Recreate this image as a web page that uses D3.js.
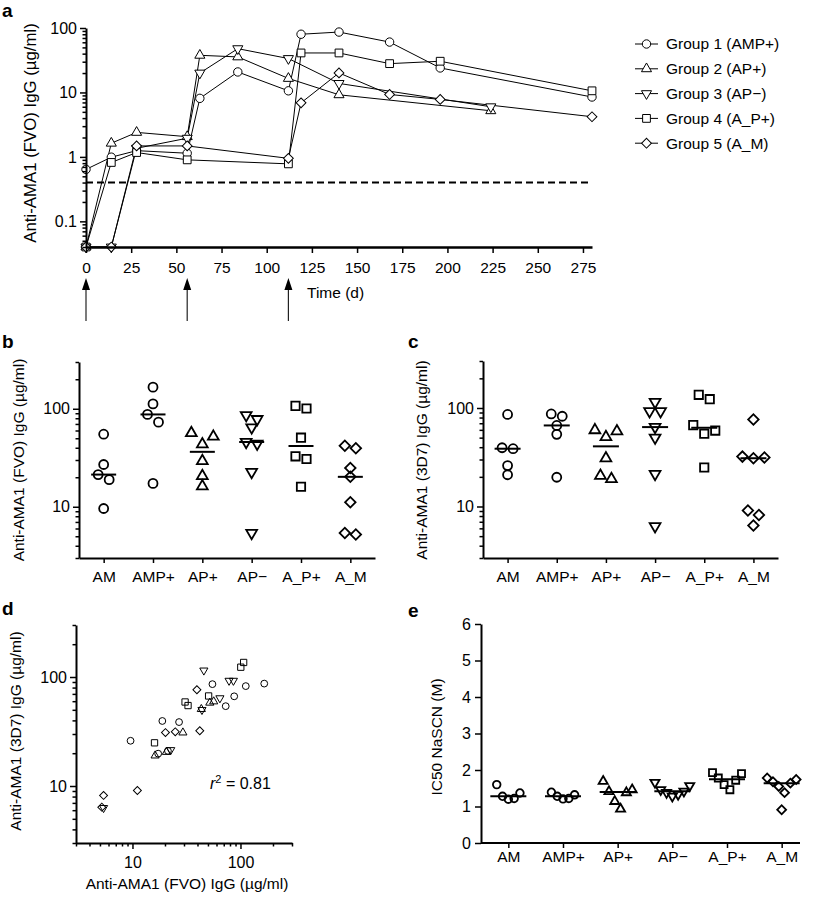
<!DOCTYPE html>
<html>
<head>
<meta charset="utf-8">
<script src="https://cdn.jsdelivr.net/npm/d3@7"></script>
<style>
  body { margin: 0; background: #fff; }
  text { font-family: "Liberation Sans", Arial, sans-serif; fill: #000; }
</style>
</head>
<body>
<svg width="814" height="897"></svg>
<script>
const svg = d3.select("svg");

// ---- panel a : time course (days, µg/ml) ----
const groupNames = ['Group 1 (AMP+)', 'Group 2 (AP+)', 'Group 3 (AP\u2212)', 'Group 4 (A_P+)', 'Group 5 (A_M)'];
const groupShapes = ['circle', 'triangle', 'triangleDown', 'square', 'diamond'];
const group1Days = [0, 14, 28, 56, 63, 84, 112, 119, 140, 168, 196, 280];
const group1Vals = [0.64, 0.99, 1.25, 1.14, 8.1, 20.8, 10.6, 80, 86.5, 60.5, 24, 8.5];
const group2Days = [0, 14, 28, 56, 63, 84, 112, 140, 224];
const group2Vals = [0.04, 1.63, 2.4, 2.06, 37.7, 35.6, 16.5, 9.2, 5.2];
const group3Days = [0, 14, 28, 56, 63, 84, 112, 140, 224];
const group3Vals = [0.04, 0.04, 1.36, 1.95, 20, 47.8, 33.6, 13.8, 6.0];
const group4Days = [0, 14, 28, 56, 112, 119, 140, 168, 196, 280];
const group4Vals = [0.04, 0.82, 1.17, 0.9, 0.78, 41, 41, 28, 30.5, 10.6];
const group5Days = [0, 14, 28, 56, 112, 119, 140, 168, 196, 280];
const group5Vals = [0.04, 0.04, 1.48, 1.48, 0.95, 6.9, 20.1, 9.3, 7.8, 4.2];
const vaccinationDays = [0, 56, 112];
const cutoff = 0.4;
const timeTicks = [0, 25, 50, 75, 100, 125, 150, 175, 200, 225, 250, 275];

// ---- panels b-e : per animal, grouped by vaccine ----
const categories = ['AM', 'AMP+', 'AP+', 'AP\u2212', 'A_P+', 'A_M'];
const categoryShapes = ['circle', 'circle', 'triangle', 'triangleDown', 'square', 'diamond'];
const fvoTitres = [
  [55, 27, 21.3, 18.9, 9.6],
  [166, 112, 87.5, 73, 17.3],
  [56.5, 52, 43.4, 29.3, 20.6, 16.2],
  [86, 78.4, 64.5, 45.8, 44, 22.6, 5.4],
  [107, 100.7, 50.7, 32.7, 30.7, 16],
  [42, 39.5, 24.9, 20.2, 11.1, 5.4, 5.2]
];
const titres3D7 = [
  [86, 38.6, 21, 39.5, 26],
  [87, 82.5, 66.5, 54, 19.8],
  [59.6, 58, 50.7, 30.9, 20.5, 19.0],
  [92.6, 92.6, 64, 115, 50, 21.4, 6.3],
  [136, 123, 67, 54.7, 59, 24.9],
  [32.1, 76.4, 31.4, 30.9, 9.1, 8.2, 6.4]
];
const ic50 = [
  [1.6, 1.37, 1.28, 1.22, 1.2],
  [1.39, 1.32, 1.28, 1.22, 1.21],
  [1.69, 1.46, 1.41, 1.38, 1.14, 0.93],
  [1.66, 1.57, 1.46, 1.42, 1.38, 1.33, 1.28],
  [1.93, 1.9, 1.78, 1.72, 1.6, 1.46],
  [1.78, 1.74, 1.68, 1.64, 1.55, 1.38, 0.91]
];
const rSquared = '0.81';
const ic50Ticks = [0, 1, 2, 3, 4, 5, 6];

// helpers
const symbolPath = (shape, r) => {
  if (shape === 'circle') return d3.symbol(d3.symbolCircle, Math.PI * r * r)();
  if (shape === 'square') return d3.symbol(d3.symbolSquare, Math.pow(1.85 * r, 2))();
  if (shape === 'diamond') return d3.symbol(d3.symbolSquare, Math.pow(1.65 * r, 2))();
  const side = 2.4 * r;
  return d3.symbol(d3.symbolTriangle, Math.sqrt(3) / 4 * side * side)();
};
const symbolRotate = shape => shape === 'diamond' ? 45 : (shape === 'triangleDown' ? 180 : 0);

const drawSymbol = (g, shape, x, y, r, sw, fill) => {
  g.append('path')
    .attr('d', symbolPath(shape, r))
    .attr('transform', `translate(${x},${y}) rotate(${symbolRotate(shape)})`)
    .attr('fill', fill)
    .attr('stroke', '#000')
    .attr('stroke-width', sw);
};

const logTicks = dom => {
  const out = [];
  for (let e = Math.floor(Math.log10(dom[0])); e <= Math.ceil(Math.log10(dom[1])); e++) {
    for (let m = 1; m < 10; m++) {
      const v = +(m * Math.pow(10, e)).toPrecision(6);
      if (v >= dom[0] * 0.999 && v <= dom[1] * 1.001) out.push(v);
    }
  }
  return out;
};
const isMajor = v => Math.abs(Math.log10(v) - Math.round(Math.log10(v))) < 1e-6;

const styleAxis = (axisG, fontSize) => {
  axisG.select('.domain').attr('stroke-width', 2);
  axisG.selectAll('.tick line').attr('stroke-width', 1.5);
  axisG.selectAll('.tick text')
    .attr('font-size', fontSize)
    .attr('font-family', '"Liberation Sans", Arial, sans-serif');
};

// left log axis with minor ticks
const logAxisLeft = (x0, yScale) => {
  const dom = yScale.domain();
  const axis = d3.axisLeft(yScale)
    .tickValues(logTicks(dom))
    .tickFormat(v => isMajor(v) ? String(v) : '')
    .tickSize(6).tickSizeOuter(0).tickPadding(3);
  const g = svg.append('g').attr('transform', `translate(${x0},0)`).call(axis);
  styleAxis(g, 16);
  g.selectAll('.tick line').attr('x2', d => isMajor(d) ? -6 : -3.5);
  return g;
};

const yLabel = (text, x, y, size) => {
  svg.append('text')
    .attr('transform', `translate(${x},${y}) rotate(-90)`)
    .attr('text-anchor', 'middle')
    .attr('font-size', size)
    .text(text);
};

const panelLetter = (t, x, y) => {
  svg.append('text').attr('x', x).attr('y', y)
    .attr('font-size', 19).attr('font-weight', 'bold').text(t);
};

// ================= panel a =================
const xTime = d3.scaleLinear().domain([0, 280]).range([86, 592]);
const yTime = d3.scaleLog().domain([0.04, 100]).range([247, 28]);

const seriesA = [
  {days: group1Days, vals: group1Vals},
  {days: group2Days, vals: group2Vals},
  {days: group3Days, vals: group3Vals},
  {days: group4Days, vals: group4Vals},
  {days: group5Days, vals: group5Vals}
];

panelLetter('a', 2, 17);

// detection cut-off
svg.append('line')
  .attr('x1', xTime(0)).attr('x2', xTime(280))
  .attr('y1', yTime(cutoff)).attr('y2', yTime(cutoff))
  .attr('stroke', '#000').attr('stroke-width', 2)
  .attr('stroke-dasharray', '7,4');

const lineGen = d3.line().x(d => xTime(d[0])).y(d => yTime(d[1]));
const gA = svg.append('g');
seriesA.forEach((s, i) => {
  const pts = s.days.map((d, j) => [d, s.vals[j]]);
  gA.append('path').attr('d', lineGen(pts))
    .attr('fill', 'none').attr('stroke', '#000').attr('stroke-width', 1);
});
seriesA.forEach((s, i) => {
  s.days.forEach((d, j) => drawSymbol(gA, groupShapes[i], xTime(d), yTime(s.vals[j]), 4.2, 1, '#fff'));
});

logAxisLeft(86, yTime);
yLabel('Anti-AMA1 (FVO) IgG (\u00b5g/ml)', 36, 133, 16.8);

const xAxisA = svg.append('g')
  .attr('transform', `translate(0,${yTime(0.04)})`)
  .call(d3.axisBottom(xTime).tickValues(timeTicks).tickSize(6).tickSizeOuter(0).tickPadding(9));
styleAxis(xAxisA, 15.5);
xAxisA.select('.domain').attr('stroke-width', 2.5);

svg.append('text').attr('x', 307).attr('y', 298).attr('font-size', 15.5).text('Time (d)');

// vaccination arrows
vaccinationDays.forEach(d => {
  const x = xTime(d);
  svg.append('line').attr('x1', x).attr('x2', x).attr('y1', 321).attr('y2', 288)
    .attr('stroke', '#222').attr('stroke-width', 1.2);
  svg.append('path')
    .attr('d', `M${x},278 L${x - 4},290 L${x + 4},290 Z`)
    .attr('fill', '#000');
});

// legend
const legend = svg.append('g').attr('transform', 'translate(635,44)');
groupNames.forEach((name, i) => {
  const row = legend.append('g').attr('transform', `translate(0,${i * 24.8})`);
  row.append('line').attr('x1', 0).attr('x2', 23).attr('stroke', '#000').attr('stroke-width', 1);
  drawSymbol(row, groupShapes[i], 11.5, 0, 4.2, 1, '#fff');
  row.append('text').attr('x', 31).attr('y', 0).attr('dy', '0.35em')
    .attr('font-size', 15.5).text(name);
});

// ============ dot plots (b, c, e) ============
// points that sit close together in y share a row; the row spreads from the centre out
const swarm = (values, yScale, gap, step) => {
  const pts = values.map(v => ({v, y: yScale(v)})).sort((a, b) => a.y - b.y);
  const rows = [];
  pts.forEach(p => {
    const last = rows[rows.length - 1];
    if (last && p.y - last[last.length - 1].y < gap) last.push(p);
    else rows.push([p]);
  });
  rows.forEach(r => {
    const n = r.length;
    const slots = [];
    if (n % 2) { slots.push(0); for (let k = 1; slots.length < n; k++) slots.push(k, -k); }
    else { for (let k = 0.5; slots.length < n; k++) slots.push(k, -k); }
    // lowest value gets the centre, highest goes to the left edge
    r.slice().sort((a, b) => b.y - a.y).forEach((p, k) => { p.dx = slots[k] * step; });
  });
  return pts;
};

const dotPanel = (opts) => {
  const x = d3.scalePoint().domain(categories).range(opts.xRange).padding(0.5);
  const y = opts.y;
  const g = svg.append('g');

  opts.data.forEach((vals, i) => {
    const cx = x(categories[i]);
    swarm(vals, y, opts.gap, opts.step).forEach(p =>
      drawSymbol(g, categoryShapes[i], cx + p.dx, p.y, opts.r, 1.8, 'none'));
    const med = d3.median(vals);
    g.append('line')
      .attr('x1', cx - opts.halfMed).attr('x2', cx + opts.halfMed)
      .attr('y1', y(med)).attr('y2', y(med))
      .attr('stroke', '#000').attr('stroke-width', 2);
  });

  // y axis
  if (opts.log) {
    logAxisLeft(opts.xRange[0], y);
  } else {
    const ya = svg.append('g').attr('transform', `translate(${opts.xRange[0]},0)`)
      .call(d3.axisLeft(y).tickValues(opts.ticks).tickFormat(d3.format('d'))
        .tickSize(6).tickSizeOuter(0).tickPadding(4));
    styleAxis(ya, 16);
  }
  // x axis
  const xa = svg.append('g').attr('transform', `translate(0,${y.range()[0]})`)
    .call(d3.axisBottom(x).tickSize(5).tickSizeOuter(0).tickPadding(opts.labelPad));
  styleAxis(xa, 15.5);
  if (opts.axisEnd) {
    xa.select('.domain').attr('d', `M${opts.xRange[0]},0H${opts.axisEnd}`);
  }
};

// panel b
panelLetter('b', 2, 348);
dotPanel({
  data: fvoTitres,
  xRange: [79, 375],
  y: d3.scaleLog().domain([3, 300]).range([558, 362]),
  log: true, gap: 8, step: 11, r: 4.5, halfMed: 12.5, labelPad: 8
});
yLabel('Anti-AMA1 (FVO) IgG (\u00b5g/ml)', 24, 460, 15.5);

// panel c
panelLetter('c', 408, 348);
dotPanel({
  data: titres3D7,
  xRange: [483, 778],
  y: d3.scaleLog().domain([3, 300]).range([558, 361]),
  log: true, gap: 8, step: 11, r: 4.5, halfMed: 13, labelPad: 8
});
yLabel('Anti-AMA1 (3D7) IgG (\u00b5g/ml)', 427, 460, 15.5);

// panel e
panelLetter('e', 408, 617);
dotPanel({
  data: ic50,
  xRange: [481, 809],
  axisEnd: 800,
  y: d3.scaleLinear().domain([0, 6]).range([843, 624]),
  ticks: ic50Ticks,
  log: false, gap: 9, step: 5.8, r: 3.8, halfMed: 18, labelPad: 3
});
yLabel('IC50 NaSCN (M)', 442, 737, 15.5);

// ================= panel d =================
panelLetter('d', 2, 615);
const xD = d3.scaleLog().domain([3, 300]).range([76, 292]);
const yD = d3.scaleLog().domain([3, 300]).range([843, 625]);
const gD = svg.append('g');
fvoTitres.forEach((vals, i) => {
  vals.forEach((v, j) =>
    drawSymbol(gD, categoryShapes[i], xD(v), yD(titres3D7[i][j]), 3.4, 1, 'none'));
});
logAxisLeft(76, yD);
const xAxisD = svg.append('g').attr('transform', `translate(0,843)`)
  .call(d3.axisBottom(xD).tickValues(logTicks(xD.domain()))
    .tickFormat(v => isMajor(v) ? String(v) : '')
    .tickSize(6).tickSizeOuter(0).tickPadding(8));
styleAxis(xAxisD, 16);
xAxisD.selectAll('.tick line').attr('y2', d => isMajor(d) ? 6 : 3.5);

yLabel('Anti-AMA1 (3D7) IgG (\u00b5g/ml)', 21, 731, 15.5);
svg.append('text').attr('x', 187).attr('y', 889).attr('text-anchor', 'middle')
  .attr('font-size', 15.5).text('Anti-AMA1 (FVO) IgG (\u00b5g/ml)');

const r2 = svg.append('text').attr('x', 210).attr('y', 789).attr('font-size', 16);
r2.append('tspan').attr('font-style', 'italic').text('r');
r2.append('tspan').attr('dy', -6).attr('font-size', 11).text('2');
r2.append('tspan').attr('dy', 6).text(' = ' + rSquared);
</script>
</body>
</html>
